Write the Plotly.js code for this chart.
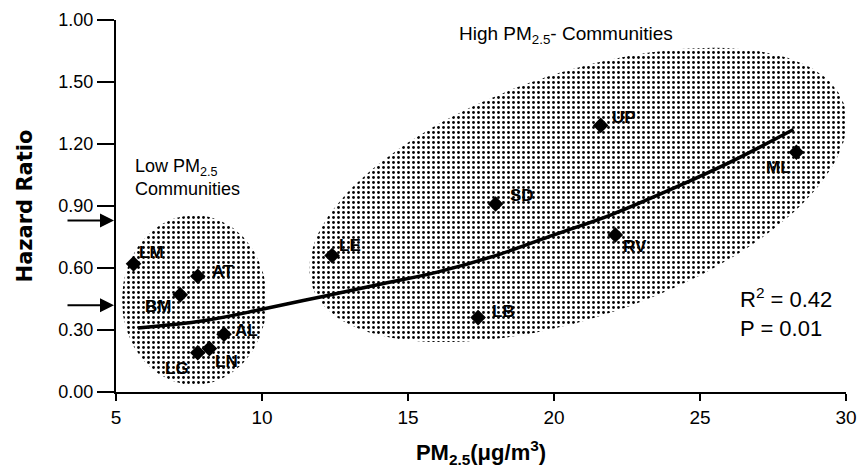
<!DOCTYPE html>
<html><head><meta charset="utf-8">
<script src="https://cdn.plot.ly/plotly-3.0.1.min.js"></script>
<style>html,body{margin:0;padding:0;background:#fff}#chart{width:858px;height:472px}</style>
</head><body><div id="chart"></div>
<script>
// ---- data ----
const communities = ['LM','AT','BM','AL','LG','LN','LE','SD','UP','ML','RV','LB'];
const pm25 = [5.6, 7.8, 7.2, 8.7, 7.8, 8.2, 12.4, 18.0, 21.6, 28.3, 22.1, 17.4];
const hazardRatio = [0.62, 0.56, 0.47, 0.28, 0.19, 0.21, 0.66, 0.91, 1.29, 1.16, 0.76, 0.36];
const fitX = [5.75, 8, 10, 12, 14, 16, 18, 20, 22, 24, 26, 28.2];
const fitY = [0.31, 0.345, 0.40, 0.46, 0.52, 0.58, 0.66, 0.76, 0.86, 0.98, 1.11, 1.27];
const xTickVals = [5, 10, 15, 20, 25, 30];
const yTickVals = [0, 0.3, 0.6, 0.9, 1.2, 1.5, 1.8];
const yTickText = ['0.00', '0.30', '0.60', '0.90', '1.20', '1.50', '1.00'];

// label offsets (pixels) relative to each point
const labelDX = [18, 25, -22, 22, -21, 17, 18, 26, 23, -18, 20, 25];
const labelDY = [11, 5, -12, 4, -16, -13, 10, 8, 8, -15, -12, 6];

// ---- layout geometry ----
const W = 858, H = 472;
const M = {l: 116, r: 12, t: 20, b: 80};
const xRange = [5, 30], yRange = [0, 1.8];
const pxPerX = (W - M.l - M.r) / (xRange[1] - xRange[0]);
const pxPerY = (H - M.t - M.b) / (yRange[1] - yRange[0]);

// ellipse outline (decoration), defined in pixel space then mapped to data units
function ellipse(cx, cy, a, b, angDeg) {
  const xs = [], ys = [], t = angDeg * Math.PI / 180;
  for (let i = 0; i <= 120; i++) {
    const p = 2 * Math.PI * i / 120;
    const px = cx + a * Math.cos(p) * Math.cos(t) - b * Math.sin(p) * Math.sin(t);
    const py = cy - (a * Math.cos(p) * Math.sin(t) + b * Math.sin(p) * Math.cos(t));
    xs.push(xRange[0] + (px - M.l) / pxPerX);
    ys.push(yRange[0] + (H - M.b - py) / pxPerY);
  }
  return {xs, ys};
}
const lowE = ellipse(194.5, 300, 72.5, 85, 0);
const highE = ellipse(578, 195, 281, 122, 19);
const stipple = {shape: '.', size: 5, solidity: 0.25, fgcolor: '#000', bgcolor: 'rgba(255,255,255,0)'};

const font = '"Liberation Sans", Arial, Helvetica, sans-serif';

const traces = [
  {x: lowE.xs, y: lowE.ys, mode: 'lines', fill: 'toself', line: {width: 0, color: 'rgba(0,0,0,0)'},
   fillcolor: 'rgba(0,0,0,0)', fillpattern: stipple, hoverinfo: 'skip', showlegend: false},
  {x: highE.xs, y: highE.ys, mode: 'lines', fill: 'toself', line: {width: 0, color: 'rgba(0,0,0,0)'},
   fillcolor: 'rgba(0,0,0,0)', fillpattern: stipple, hoverinfo: 'skip', showlegend: false},
  {x: fitX, y: fitY, mode: 'lines', line: {color: '#000', width: 3.5, shape: 'spline'}, showlegend: false},
  {x: pm25, y: hazardRatio, mode: 'markers', marker: {symbol: 'diamond', size: 12, color: '#000'},
   text: communities, showlegend: false}
];

const annotations = communities.map((c, i) => ({
  x: pm25[i], y: hazardRatio[i], text: c, showarrow: false,
  xshift: labelDX[i], yshift: labelDY[i],
  font: {family: font, size: 17, color: '#000', weight: 'bold'}
}));

annotations.push(
  {x: 20.4, y: 1.727, xref: 'x', yref: 'y', text: 'High PM<sub>2.5</sub>- Communities', showarrow: false,
   font: {family: font, size: 19, color: '#000'}},
  {x: 5.58, y: 1.04, xref: 'x', yref: 'y', xanchor: 'left', align: 'left',
   text: 'Low PM<sub>2.5</sub><br>Communities', showarrow: false,
   font: {family: font, size: 18, color: '#000'}},
  {x: 26.3, y: 0.385, xref: 'x', yref: 'y', xanchor: 'left', align: 'left',
   text: 'R<sup>2</sup> = 0.42<br>P = 0.01', showarrow: false,
   font: {family: font, size: 22, color: '#000'}},
  {x: 5, y: 0.83, xref: 'x', yref: 'y', ax: -50, ay: 0, text: '', showarrow: true,
   arrowhead: 2, arrowsize: 1.4, arrowwidth: 2, arrowcolor: '#000', standoff: 2},
  {x: 5, y: 0.42, xref: 'x', yref: 'y', ax: -50, ay: 0, text: '', showarrow: true,
   arrowhead: 2, arrowsize: 1.4, arrowwidth: 2, arrowcolor: '#000', standoff: 2}
);

const layout = {
  width: W, height: H, margin: M,
  paper_bgcolor: '#fff', plot_bgcolor: '#fff',
  font: {family: font, color: '#000'},
  xaxis: {range: xRange, tickvals: xTickVals, showgrid: false, zeroline: false,
          showline: true, linecolor: '#000', linewidth: 2, ticks: 'outside', ticklen: 7,
          tickwidth: 1.5, tickcolor: '#000', tickfont: {size: 19},
          title: {text: 'PM<sub>2.5</sub>(μg/m<sup>3</sup>)', font: {size: 22, weight: 'bold'}, standoff: 18}},
  yaxis: {range: yRange, tickvals: yTickVals, ticktext: yTickText, showgrid: false, zeroline: false,
          showline: true, linecolor: '#000', linewidth: 2, ticks: 'outside', ticklen: 17,
          tickwidth: 2, tickcolor: '#000', tickfont: {size: 18},
          title: {text: 'Hazard Ratio', font: {family: '"DejaVu Sans", sans-serif', size: 21, weight: 'bold'}, standoff: 20}},
  annotations: annotations
};

Plotly.newPlot('chart', traces, layout, {displayModeBar: false, staticPlot: true});
</script>
</body></html>
